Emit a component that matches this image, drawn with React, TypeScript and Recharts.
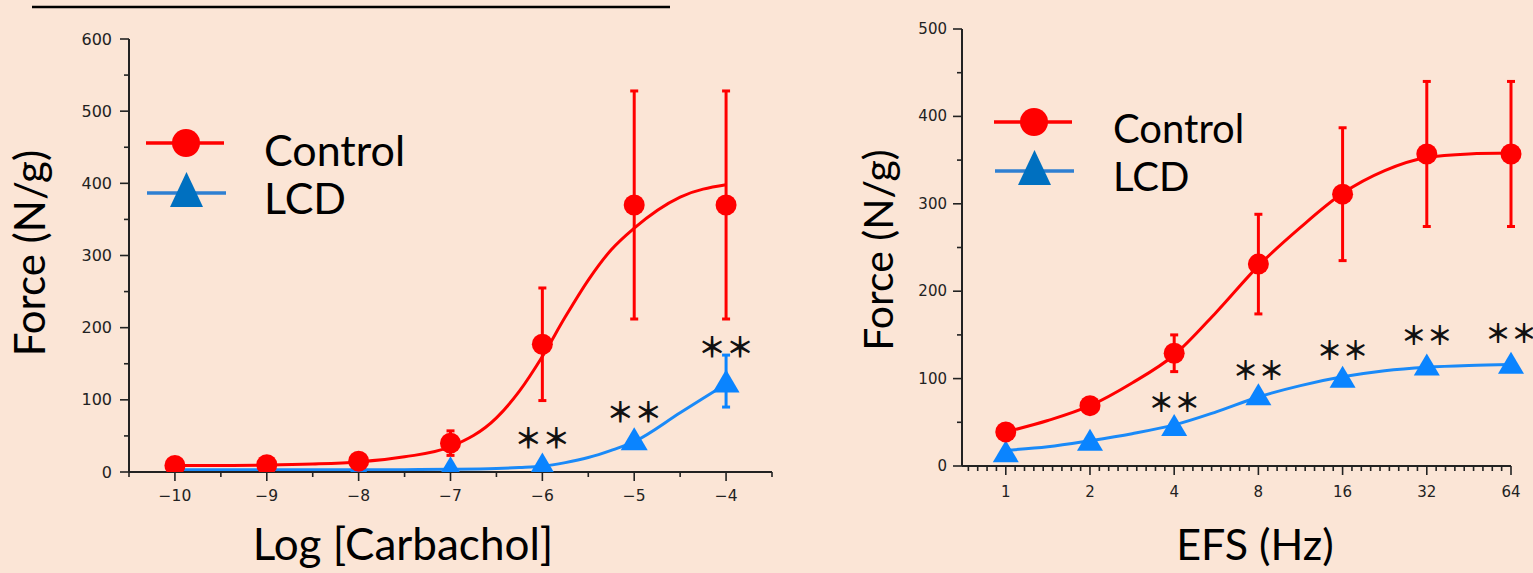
import React from 'react';
import { ComposedChart, Line, Scatter, XAxis, YAxis, ErrorBar } from 'recharts';

// ---------- Left panel: Log [Carbachol] ----------
const carbLog = [-10, -9, -8, -7, -6, -5, -4];
const carbControl = [9, 10, 15, 40, 177, 370, 370];
const carbControlErr = [0, 0, 0, 17, 78, 158, 158];
const carbLcd = [3, 3, 4, 6, 11, 46, 126];
const carbLcdErr = [0, 0, 0, 0, 0, 0, 36];
const carbStarLevel = [null, null, null, null, 48, 85, 174];
const carbFitX = [-10, -9.5, -9, -8.5, -8, -7.5, -7, -6.5, -6.25, -6, -5.75, -5.5, -5.25, -5, -4.5, -4];
const carbControlFit = [9, 9, 9.5, 11, 14, 21, 35, 75, 112, 160, 215, 266, 308, 338, 381, 398];
const carbLcdFit = [3, 3, 3, 3, 3, 3.2, 3.8, 5, 6.2, 8, 13, 20, 30, 42, 82, 122];
const carbXTicks = [-10.5, -10, -9.5, -9, -8.5, -8, -7.5, -7, -6.5, -6, -5.5, -5, -4.5, -4, -3.5];
const carbYTicks = [0, 50, 100, 150, 200, 250, 300, 350, 400, 450, 500, 550, 600];

// ---------- Right panel: EFS (Hz) ----------
const efsHz = [1, 2, 4, 8, 16, 32, 64];
const efsControl = [39, 69, 129, 231, 311, 357, 357];
const efsControlErr = [0, 0, 21, 57, 76, 83, 83];
const efsLcd = [17, 30, 47, 82, 102, 116, 118];
const efsLcdErr = [0, 0, 0, 0, 0, 0, 0];
const efsStarLevel = [null, null, 75, 112, 134, 152, 154];
const efsFitHz = [1, 1.414, 2, 2.828, 4, 5.657, 8, 11.31, 16, 22.63, 32, 45.25, 64];
const efsControlFit = [39, 52, 69, 95, 127, 176, 229, 273, 312, 338, 353, 357, 358];
const efsLcdFit = [18, 22, 29, 37, 47, 62, 79, 92, 102, 109, 113, 115, 116];
const efsMajorTicks = [1, 2, 4, 8, 16, 32, 64];
const efsYTicks = [0, 50, 100, 150, 200, 250, 300, 350, 400, 450, 500];
// minor ticks: 9 steps per octave on log axis
const efsXTicks: number[] = [];
for (let k = -4; k <= 54; k++) efsXTicks.push(Math.pow(2, k / 9));

const BG = '#FBE5D6';
const AXIS = '#222';
const RED = '#FF0000';
const BLUE = '#0A84FF';
const BLUE_LINE = '#1A8AF8';
const TICK_FONT = 'DejaVu Sans';
const TITLE_FONT = 'Lato';

const pts = (xs: number[], ys: (number | null)[], errs?: number[]) =>
  xs
    .map((x, i) => ({ x, y: ys[i], err: errs ? errs[i] : 0 }))
    .filter((d) => d.y !== null && d.y !== undefined);

const circleShape = (r: number) => (p: any) =>
  <circle cx={p.cx} cy={p.cy} r={r} fill={RED} />;

const triShape = (w: number, h: number) => (p: any) =>
  <polygon
    points={`${p.cx},${p.cy - h / 2} ${p.cx - w / 2},${p.cy + h / 2} ${p.cx + w / 2},${p.cy + h / 2}`}
    fill={BLUE}
  />;

const starShape = (size: number) => (p: any) =>
  <text
    x={p.cx}
    y={p.cy}
    textAnchor="middle"
    dominantBaseline="central"
    fontFamily="Noto Sans CJK JP"
    fontWeight={700}
    fontSize={size}
    fill="#111"
  >
    ＊＊
  </text>;

const near = (a: number, b: number) => Math.abs(a - b) < 1e-6;

const makeXTick = (
  isMajor: (v: number) => boolean,
  fmt: (v: number) => string,
  majorLen: number,
  minorLen: number,
  labelDy: number,
  fontSize: number,
  fontFamily: string
) => (props: any) => {
  const { x, y, payload } = props;
  const v = payload.value;
  const major = isMajor(v);
  return (
    <g>
      <line x1={x} y1={y} x2={x} y2={y + (major ? majorLen : minorLen)} stroke={AXIS} strokeWidth={1.6} />
      {major && (
        <text x={x} y={y + labelDy} textAnchor="middle" dominantBaseline="central" fontFamily={fontFamily} fontSize={fontSize} fill="#222">
          {fmt(v)}
        </text>
      )}
    </g>
  );
};

const makeYTick = (
  isMajor: (v: number) => boolean,
  majorLen: number,
  minorLen: number,
  labelDx: number,
  fontSize: number,
  fontFamily: string
) => (props: any) => {
  const { x, y, payload } = props;
  const v = payload.value;
  const major = isMajor(v);
  return (
    <g>
      <line x1={x - (major ? majorLen : minorLen)} y1={y} x2={x} y2={y} stroke={AXIS} strokeWidth={1.6} />
      {major && (
        <text x={x - labelDx} y={y} textAnchor="end" dominantBaseline="central" fontFamily={fontFamily} fontSize={fontSize} fill="#222">
          {v}
        </text>
      )}
    </g>
  );
};

const minusFmt = (v: number) => (v < 0 ? '\u2212' + Math.abs(v) : String(v));

function LeftChart() {
  const ctrl = pts(carbLog, carbControl, carbControlErr);
  const lcd = pts(carbLog, carbLcd, carbLcdErr);
  const stars = pts(carbLog, carbStarLevel);
  const ctrlFit = pts(carbFitX, carbControlFit);
  const lcdFit = pts(carbFitX, carbLcdFit);
  return (
    <ComposedChart width={800} height={573} margin={{ top: 39, right: 28, bottom: 0, left: 0 }}>
      <XAxis
        type="number"
        dataKey="x"
        domain={[-10.5, -3.5]}
        ticks={carbXTicks}
        interval={0}
        height={101}
        tickSize={0}
        tickMargin={0}
        tickLine={false}
        axisLine={{ stroke: AXIS, strokeWidth: 2 }}
        allowDataOverflow
        tick={makeXTick((v) => near(v, Math.round(v)), minusFmt, 9, 5, 24, 15.5, TICK_FONT)}
      />
      <YAxis
        type="number"
        domain={[0, 600]}
        ticks={carbYTicks}
        interval={0}
        width={129}
        tickSize={0}
        tickMargin={0}
        tickLine={false}
        axisLine={{ stroke: AXIS, strokeWidth: 2 }}
        allowDataOverflow
        tick={makeYTick((v) => v % 100 === 0, 9, 5, 17, 16, TICK_FONT)}
      />
      <Line data={ctrlFit} dataKey="y" type="monotone" stroke={RED} strokeWidth={3} dot={false} isAnimationActive={false} />
      <Line data={lcdFit} dataKey="y" type="monotone" stroke={BLUE_LINE} strokeWidth={3} dot={false} isAnimationActive={false} />
      <Scatter data={lcd} dataKey="y" shape={triShape(27, 23)} isAnimationActive={false}>
        <ErrorBar dataKey="err" direction="y" width={4} stroke={BLUE} strokeWidth={3} isAnimationActive={false} />
      </Scatter>
      <Scatter data={ctrl} dataKey="y" shape={circleShape(10.5)} isAnimationActive={false}>
        <ErrorBar dataKey="err" direction="y" width={4} stroke={RED} strokeWidth={3} isAnimationActive={false} />
      </Scatter>
      <Scatter data={stars} dataKey="y" shape={starShape(28)} isAnimationActive={false} />
    </ComposedChart>
  );
}

function RightChart() {
  const ctrl = pts(efsHz, efsControl, efsControlErr);
  const lcd = pts(efsHz, efsLcd, efsLcdErr);
  const stars = pts(efsHz, efsStarLevel);
  const ctrlFit = pts(efsFitHz, efsControlFit);
  const lcdFit = pts(efsFitHz, efsLcdFit);
  return (
    <ComposedChart width={683} height={573} margin={{ top: 29, right: 22, bottom: 0, left: 0 }}>
      <XAxis
        type="number"
        dataKey="x"
        scale="log"
        domain={[0.6974, 64]}
        ticks={efsXTicks}
        interval={0}
        height={107}
        tickSize={0}
        tickMargin={0}
        tickLine={false}
        axisLine={{ stroke: AXIS, strokeWidth: 2 }}
        tick={makeXTick((v) => efsMajorTicks.some((m) => Math.abs(m - v) < 1e-6), (v) => String(Math.round(v)), 9, 5, 26, 15, TICK_FONT)}
      />
      <YAxis
        type="number"
        domain={[0, 500]}
        ticks={efsYTicks}
        interval={0}
        width={112}
        tickSize={0}
        tickMargin={0}
        tickLine={false}
        axisLine={{ stroke: AXIS, strokeWidth: 2 }}
        tick={makeYTick((v) => v % 100 === 0, 9, 5, 15, 15, TICK_FONT)}
      />
      <Line data={ctrlFit} dataKey="y" type="monotone" stroke={RED} strokeWidth={3} dot={false} isAnimationActive={false} />
      <Line data={lcdFit} dataKey="y" type="monotone" stroke={BLUE_LINE} strokeWidth={3} dot={false} isAnimationActive={false} />
      <Scatter data={lcd} dataKey="y" shape={triShape(26, 22)} isAnimationActive={false}>
        <ErrorBar dataKey="err" direction="y" width={4} stroke={BLUE} strokeWidth={3} isAnimationActive={false} />
      </Scatter>
      <Scatter data={ctrl} dataKey="y" shape={circleShape(10.5)} isAnimationActive={false}>
        <ErrorBar dataKey="err" direction="y" width={4} stroke={RED} strokeWidth={3} isAnimationActive={false} />
      </Scatter>
      <Scatter data={stars} dataKey="y" shape={starShape(26)} isAnimationActive={false} />
    </ComposedChart>
  );
}

function Overlay() {
  const legend = (lx: number, ly: number, gap: number, tx: number, fs: number, cy1: number) => (
    <g>
      <line x1={lx} y1={ly} x2={lx + 78} y2={ly} stroke={RED} strokeWidth={3.5} />
      <circle cx={lx + 40} cy={ly} r={14} fill={RED} />
      <line x1={lx + 1} y1={ly + gap} x2={lx + 80} y2={ly + gap} stroke="#2E7FD2" strokeWidth={3.5} />
      <polygon
        points={`${lx + 40.5},${ly + gap - 21} ${lx + 24},${ly + gap + 14} ${lx + 57},${ly + gap + 14}`}
        fill="#0070C0"
      />
      <text x={tx} y={cy1} fontFamily={TITLE_FONT} fontSize={fs} fill="#000">Control</text>
      <text x={tx} y={cy1 + 47.5} fontFamily={TITLE_FONT} fontSize={fs} fill="#000">LCD</text>
    </g>
  );
  return (
    <svg width={1533} height={573} style={{ position: 'absolute', left: 0, top: 0, pointerEvents: 'none' }}>
      <line x1={32} y1={7} x2={670} y2={7} stroke="#000" strokeWidth={2.5} />
      {legend(146, 143, 50, 264, 43, 166)}
      {legend(994, 122, 49, 1113, 40, 143)}
      <text x={45} y={253} transform="rotate(-90, 45, 253)" textAnchor="middle" fontFamily={TITLE_FONT} fontSize={42} fill="#000">
        Force (N/g)
      </text>
      <text x={893} y={250} transform="rotate(-90, 893, 250)" textAnchor="middle" fontFamily={TITLE_FONT} fontSize={41} fill="#000">
        Force (N/g)
      </text>
      <text x={403} y={560} textAnchor="middle" fontFamily={TITLE_FONT} fontSize={44} fill="#000">
        Log [Carbachol]
      </text>
      <text x={1255} y={560} textAnchor="middle" fontFamily={TITLE_FONT} fontSize={43} fill="#000">
        EFS (Hz)
      </text>
    </svg>
  );
}

export default function App() {
  return (
    <div style={{ position: 'absolute', left: 0, top: 0, width: 1533, height: 573, background: BG, overflow: 'hidden' }}>
      <div style={{ position: 'absolute', left: 0, top: 0 }}>
        <LeftChart />
      </div>
      <div style={{ position: 'absolute', left: 850, top: 0 }}>
        <RightChart />
      </div>
      <Overlay />
    </div>
  );
}
